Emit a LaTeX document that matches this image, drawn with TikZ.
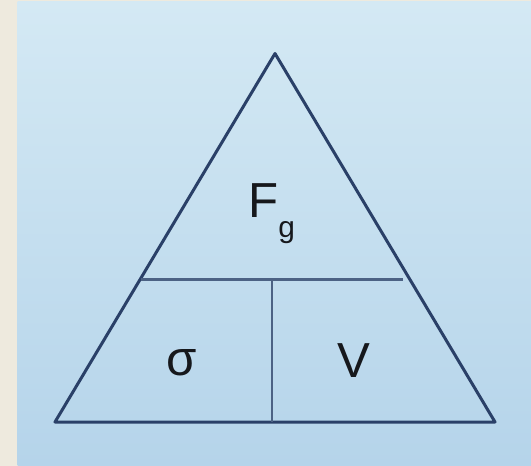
\documentclass[tikz,border=0pt]{standalone}
\usepackage{fontspec}
\setmainfont{Liberation Sans}
\definecolor{paper}{RGB}{238,234,222}
\definecolor{skytop}{RGB}{212,233,244}
\definecolor{skybot}{RGB}{181,212,234}
\definecolor{navy}{RGB}{42,64,104}
\definecolor{ink}{RGB}{22,24,28}
\tikzset{
  outline/.style={
    draw=navy,
    line width=0.06cm,
    line join=round
  },
  divider/.style={
    draw=navy!80!skytop,
    line width=0.05cm
  },
  symbol/.style={
    inner sep=0pt,
    text=ink,
    font=\fontsize{28}{34}\selectfont
  }
}

\begin{document}
\begin{tikzpicture}[x=0.02cm,y=-0.02cm]
    \useasboundingbox (0,0) rectangle (531,466);
    \fill[paper] (0,0) rectangle (531,466);
    \fill[top color=skytop, bottom color=skybot] (17.5,1.5) rectangle (531,466);
    % corners of the triangle
    \coordinate (apex) at (275,53.5);
    \coordinate (baseL) at (55,422);
    \coordinate (baseR) at (495,422);
    \coordinate (midL) at (141,279.5);
    \coordinate (midR) at (403,279.5);
    \coordinate (split) at (272,279.5);
    \coordinate (splitB) at (272,422);
    \draw[outline] (apex) -- (baseR) -- (baseL) -- cycle;
    \draw[divider] (midL) -- (midR);
    \draw[divider, line width=0.04cm] (split) -- (splitB);
    % the three quantities
    \node[symbol, anchor=base west] (force) at (248,217.5)
        {F\raisebox{-0.4em}{\fontsize{17}{20}\selectfont g}};
    \node[symbol, anchor=base] (density) at (181.5,375.5) {σ};
    \node[symbol, anchor=base] (volume) at (354,377) {V};
\end{tikzpicture}
\end{document}
